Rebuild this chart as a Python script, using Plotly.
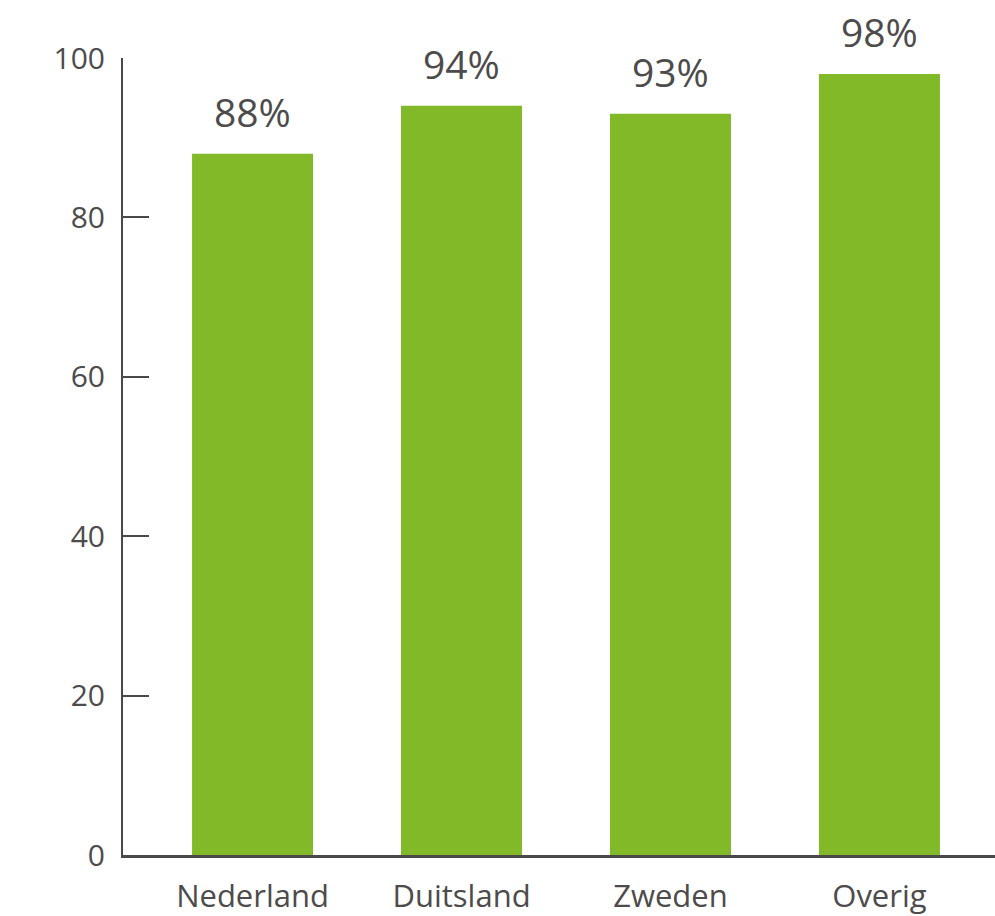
import plotly.graph_objects as go

countries = ["Nederland", "Duitsland", "Zweden", "Overig"]
shares = [88, 94, 93, 98]
y_ticks = [0, 20, 40, 60, 80, 100]

BAR_COLOR = "#81B928"
AXIS_COLOR = "#4A4848"
TEXT_COLOR = "#4D4B4B"
FONT = "Open Sans, Noto Sans, sans-serif"

fig = go.Figure(
    go.Bar(
        x=countries,
        y=shares,
        marker=dict(color=BAR_COLOR, line=dict(width=0)),
        hoverinfo="skip",
    )
)

# value labels above each bar
for c, v in zip(countries, shares):
    fig.add_annotation(
        x=c, y=v, text=f"{v}%", showarrow=False,
        yanchor="bottom", yshift=14,
        font=dict(family=FONT, size=39, color=TEXT_COLOR),
    )

fig.update_layout(
    width=995, height=916,
    margin=dict(l=123, r=0, t=58, b=58),
    paper_bgcolor="white", plot_bgcolor="white",
    bargap=0.421,
    showlegend=False,
    font=dict(family=FONT, color=TEXT_COLOR),
)

fig.update_xaxes(
    range=[-0.62, 3.553],
    showline=True, linecolor=AXIS_COLOR, linewidth=2.5,
    ticks="", showgrid=False, zeroline=False,
    ticklabelstandoff=12,
    tickfont=dict(family=FONT, size=31, color=TEXT_COLOR),
)

fig.update_yaxes(
    range=[0, 100],
    tickvals=y_ticks,
    showline=True, linecolor=AXIS_COLOR, linewidth=2,
    ticks="inside", ticklen=26, tickwidth=2, tickcolor=AXIS_COLOR,
    showgrid=False, zeroline=False,
    ticklabelstandoff=10,
    tickfont=dict(family=FONT, size=30, color=TEXT_COLOR),
)

fig.write_html("out.html")
